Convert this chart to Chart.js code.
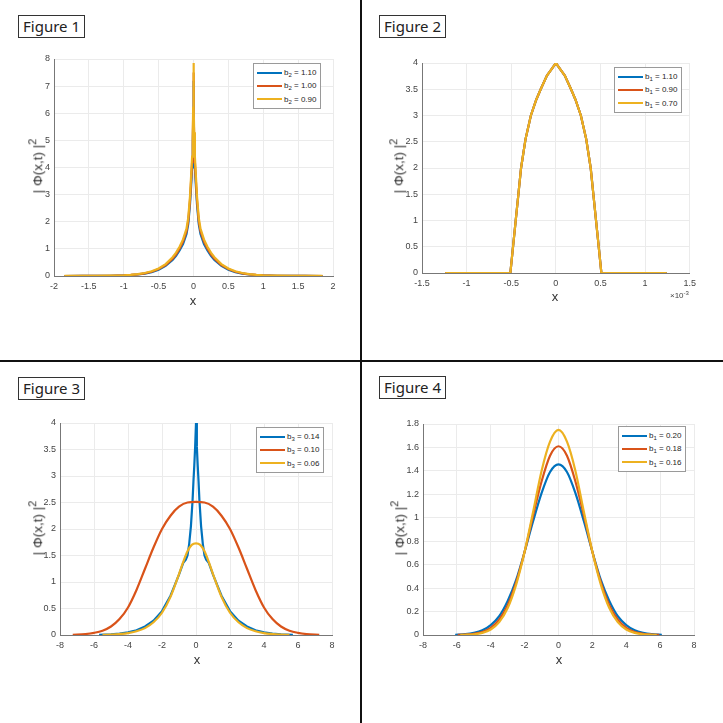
<!DOCTYPE html>
<html>
<head>
<meta charset="utf-8">
<script src="https://cdn.jsdelivr.net/npm/chart.js@4.4.1/dist/chart.umd.min.js"></script>
<style>
  html, body { margin: 0; padding: 0; background: #fff; }
  body { width: 723px; height: 723px; position: relative; overflow: hidden; font-family: "Liberation Sans", Arial, sans-serif; }
  .divider { position: absolute; background: #111; }
  .figbox { position: absolute; border: 1px solid #333; font-family: "Noto Sans", sans-serif; font-size: 15px; line-height: 21px; padding: 0 4px; color: #222; }
  .legend { position: absolute; background: #fff; border: 1px solid #9a9a9a; padding: 2px 4px 2px 3px; font-size: 8px; color: #262626; }
  .legend .row { height: 13.3px; display: flex; align-items: center; white-space: nowrap; }
  .legend .swatch { display: inline-block; width: 25px; height: 2px; margin-right: 2px; }
  .legend .txt { white-space: pre; }
  .legend sub { font-size: 6px; vertical-align: -2px; line-height: 0; }
  .xtitle { position: absolute; font-size: 13px; color: #333; transform: translate(-50%, -50%); line-height: 1; }
  .ytitle { position: absolute; font-size: 13.5px; color: #333; transform: translate(-50%, -50%) rotate(-90deg); white-space: nowrap; line-height: 1; }
  .ytitle sup { font-size: 11px; vertical-align: 6px; line-height: 0; }
  .expo { position: absolute; font-size: 8px; color: #444; }
  .expo sup { font-size: 6px; vertical-align: 3px; line-height: 0; }
  canvas { position: absolute; }
</style>
</head>
<body>
<div class="divider" style="left:360px;top:0;width:2px;height:723px"></div>
<div class="divider" style="left:0;top:360px;width:723px;height:2px"></div>

<script>
// ---- Figure 1 (b2) ----
const fig1X = [-1.85,-1.6,-1.4,-1.2,-1.0,-0.9,-0.8,-0.7,-0.6,-0.5,-0.4,-0.3,-0.25,-0.2,-0.15,-0.1,-0.075,-0.05,-0.03,-0.02,-0.01,-0.005,0,
               0.005,0.01,0.02,0.03,0.05,0.075,0.1,0.15,0.2,0.25,0.3,0.4,0.5,0.6,0.7,0.8,0.9,1.0,1.2,1.4,1.6,1.85];
const fig1B110 = [0.0005,0.0015,0.003,0.008,0.022,0.035,0.055,0.088,0.14,0.23,0.37,0.59,0.74,0.94,1.18,1.55,1.92,2.65,3.5,4.0,4.8,5.6,7.2,
                  5.6,4.8,4.0,3.5,2.65,1.92,1.55,1.18,0.94,0.74,0.59,0.37,0.23,0.14,0.088,0.055,0.035,0.022,0.008,0.003,0.0015,0.0005];
const fig1B100 = [0.0008,0.0018,0.004,0.0095,0.025,0.04,0.062,0.099,0.158,0.255,0.405,0.64,0.8,1.01,1.27,1.65,2.03,2.8,3.7,4.2,5.05,5.9,7.5,
                  5.9,5.05,4.2,3.7,2.8,2.03,1.65,1.27,1.01,0.8,0.64,0.405,0.255,0.158,0.099,0.062,0.04,0.025,0.0095,0.004,0.0018,0.0008];
const fig1B090 = [0.001,0.002,0.005,0.011,0.028,0.045,0.07,0.11,0.175,0.28,0.44,0.69,0.86,1.08,1.35,1.75,2.15,2.95,3.9,4.4,5.3,6.2,7.85,
                  6.2,5.3,4.4,3.9,2.95,2.15,1.75,1.35,1.08,0.86,0.69,0.44,0.28,0.175,0.11,0.07,0.045,0.028,0.011,0.005,0.002,0.001];
const fig1Labels = ['1.10', '1.00', '0.90'];
const fig1XTicks = [-2,-1.5,-1,-0.5,0,0.5,1,1.5,2];
const fig1YTicks = [0,1,2,3,4,5,6,7,8];

// ---- Figure 2 (b1), x in units of 1e-3 ----
const fig2X = [-1.24,-0.51,-0.48,-0.45,-0.42,-0.39,-0.34,-0.28,-0.22,-0.17,-0.1,-0.05,0,0.05,0.1,0.17,0.22,0.28,0.34,0.39,0.42,0.45,0.48,0.51,1.24];
const fig2Y = [0,0,0.5,1.0,1.5,2.0,2.55,3.0,3.3,3.5,3.76,3.88,4.0,3.88,3.76,3.5,3.3,3.0,2.55,2.0,1.5,1.0,0.5,0,0];
const fig2Labels = ['1.10', '0.90', '0.70'];
const fig2XTicks = [-1.5,-1,-0.5,0,0.5,1,1.5];
const fig2YTicks = [0,0.5,1,1.5,2,2.5,3,3.5,4];

// ---- Figure 3 (b3) ----
const fig3XB014 = [-5.7,-5,-4.5,-4,-3.5,-3,-2.5,-2,-1.5,-1,-0.75,-0.6,-0.5,-0.4,-0.3,-0.2,-0.15,-0.1,-0.05,0,
                   0.05,0.1,0.15,0.2,0.3,0.4,0.5,0.6,0.75,1,1.5,2,2.5,3,3.5,4,4.5,5,5.7];
const fig3B014 = [0.005,0.014,0.027,0.05,0.09,0.16,0.27,0.45,0.74,1.14,1.36,1.42,1.5,1.72,2.05,2.55,2.9,3.2,3.55,4.0,
                  3.55,3.2,2.9,2.55,2.05,1.72,1.5,1.42,1.36,1.14,0.74,0.45,0.27,0.16,0.09,0.05,0.027,0.014,0.005];
const fig3XB010 = [-7.25,-6.5,-6,-5.5,-5,-4.5,-4,-3.5,-3,-2.5,-2,-1.5,-1,-0.5,0,0.5,1,1.5,2,2.5,3,3.5,4,4.5,5,5.5,6,6.5,7.25];
const fig3B010 = [0.005,0.018,0.04,0.08,0.16,0.3,0.52,0.85,1.25,1.65,2.0,2.25,2.42,2.5,2.51,2.5,2.42,2.25,2.0,1.65,1.25,0.85,0.52,0.3,0.16,0.08,0.04,0.018,0.005];
const fig3XB006 = [-5.5,-5,-4.5,-4,-3.5,-3,-2.5,-2,-1.5,-1,-0.75,-0.5,-0.25,0,0.25,0.5,0.75,1,1.5,2,2.5,3,3.5,4,4.5,5,5.5];
const fig3B006 = [0.003,0.008,0.018,0.035,0.07,0.13,0.24,0.42,0.72,1.15,1.38,1.58,1.7,1.73,1.7,1.58,1.38,1.15,0.72,0.42,0.24,0.13,0.07,0.035,0.018,0.008,0.003];
const fig3Labels = ['0.14', '0.10', '0.06'];
const fig3XTicks = [-8,-6,-4,-2,0,2,4,6,8];
const fig3YTicks = [0,0.5,1,1.5,2,2.5,3,3.5,4];

// ---- Figure 4 (b1) ----
const fig4XB020 = [-6.1,-5.5,-5,-4.5,-4,-3.5,-3,-2.5,-2,-1.5,-1,-0.5,0,0.5,1,1.5,2,2.5,3,3.5,4,4.5,5,5.5,6.1];
const fig4B020 = [0.002,0.007,0.018,0.04,0.085,0.16,0.29,0.47,0.71,0.97,1.21,1.39,1.455,1.39,1.21,0.97,0.71,0.47,0.29,0.16,0.085,0.04,0.018,0.007,0.002];
const fig4XB018 = [-5.95,-5.5,-5,-4.5,-4,-3.5,-3,-2.5,-2,-1.5,-1,-0.5,0,0.5,1,1.5,2,2.5,3,3.5,4,4.5,5,5.5,5.95];
const fig4B018 = [0.0012,0.0033,0.01,0.025,0.061,0.131,0.255,0.45,0.71,1.02,1.31,1.53,1.61,1.53,1.31,1.02,0.71,0.45,0.255,0.131,0.061,0.025,0.01,0.0033,0.0012];
const fig4XB016 = [-5.8,-5.5,-5,-4.5,-4,-3.5,-3,-2.5,-2,-1.5,-1,-0.5,0,0.5,1,1.5,2,2.5,3,3.5,4,4.5,5,5.5,5.8];
const fig4B016 = [0.0009,0.0019,0.006,0.018,0.047,0.11,0.23,0.43,0.71,1.05,1.4,1.65,1.75,1.65,1.4,1.05,0.71,0.43,0.23,0.11,0.047,0.018,0.006,0.0019,0.0009];
const fig4Labels = ['0.20', '0.18', '0.16'];
const fig4XTicks = [-8,-6,-4,-2,0,2,4,6,8];
const fig4YTicks = [0,0.2,0.4,0.6,0.8,1,1.2,1.4,1.6,1.8];

const COLORS = ['#0072BD', '#D95319', '#EDB120'];
const PAD = { l: 40, t: 10, r: 10, b: 24 };

function fmt(v) {
    return String(Number(v.toFixed(3)));
}

function addDiv(cls, html, style) {
    const d = document.createElement('div');
    d.className = cls;
    d.innerHTML = html;
    Object.assign(d.style, style);
    document.body.appendChild(d);
    return d;
}

function makePanel(p) {
    const a = p.area;
    const w = a.right - a.left + PAD.l + PAD.r;
    const h = a.bottom - a.top + PAD.t + PAD.b;
    const cv = document.createElement('canvas');
    cv.width = w;
    cv.height = h;
    cv.style.left = (a.left - PAD.l) + 'px';
    cv.style.top = (a.top - PAD.t) + 'px';
    cv.style.width = w + 'px';
    cv.style.height = h + 'px';
    document.body.appendChild(cv);

    const tickFont = { family: '"Liberation Sans", Arial, sans-serif', size: 9 };

    new Chart(cv, {
        type: 'scatter',
        data: {
            datasets: p.series.map((s, i) => ({
                label: p.labels[i],
                data: s.x.map((x, j) => ({ x: x, y: s.y[j] })),
                showLine: true,
                borderColor: COLORS[i],
                backgroundColor: COLORS[i],
                borderWidth: 2.2,
                pointRadius: 0,
                order: 3 - i,
                tension: s.smooth ? 0.4 : 0,
                cubicInterpolationMode: s.smooth ? 'monotone' : 'default'
            }))
        },
        options: {
            responsive: false,
            animation: false,
            events: [],
            layout: { padding: { left: 0, top: PAD.t, right: PAD.r, bottom: 0 } },
            plugins: { legend: { display: false }, tooltip: { enabled: false } },
            scales: {
                x: {
                    type: 'linear',
                    min: p.xTicks[0],
                    max: p.xTicks[p.xTicks.length - 1],
                    afterBuildTicks: (sc) => { sc.ticks = p.xTicks.map(v => ({ value: v })); },
                    afterFit: (sc) => { sc.height = PAD.b; },
                    grid: { color: '#ebebeb', drawTicks: false },
                    border: { color: '#777', width: 1 },
                    ticks: { font: tickFont, color: '#444', padding: 5, maxRotation: 0, autoSkip: false, callback: fmt }
                },
                y: {
                    type: 'linear',
                    min: p.yTicks[0],
                    max: p.yTicks[p.yTicks.length - 1],
                    afterBuildTicks: (sc) => { sc.ticks = p.yTicks.map(v => ({ value: v })); },
                    afterFit: (sc) => { sc.width = PAD.l; },
                    grid: { color: '#ebebeb', drawTicks: false },
                    border: { color: '#777', width: 1 },
                    ticks: { font: tickFont, color: '#444', padding: 4, autoSkip: false, callback: fmt }
                }
            }
        }
    });

    // figure caption box
    addDiv('figbox', 'Figure ' + p.num, { left: p.fig.x + 'px', top: p.fig.y + 'px' });

    // legend
    const rows = p.labels.map((lab, i) =>
        '<div class="row"><span class="swatch" style="background:' + COLORS[i] + '"></span>' +
        '<span class="txt">b<sub>' + p.sub + '</sub> = ' + lab + '</span></div>').join('');
    addDiv('legend', rows, { left: p.legend.x + 'px', top: p.legend.y + 'px' });

    // axis titles
    addDiv('xtitle', 'x', { left: p.xTitle.x + 'px', top: p.xTitle.y + 'px' });
    addDiv('ytitle', '| &Phi;(x,t) |<sup>2</sup>', { left: p.yTitle.x + 'px', top: p.yTitle.y + 'px' });
}

makePanel({
    num: 1, sub: '2', labels: fig1Labels,
    area: { left: 54, top: 59, right: 333, bottom: 276 },
    xTicks: fig1XTicks, yTicks: fig1YTicks,
    fig: { x: 18, y: 15 }, legend: { x: 253, y: 63 },
    xTitle: { x: 193, y: 300 }, yTitle: { x: 38, y: 166 },
    series: [
        { x: fig1X, y: fig1B110 },
        { x: fig1X, y: fig1B100 },
        { x: fig1X, y: fig1B090 }
    ]
});

makePanel({
    num: 2, sub: '1', labels: fig2Labels,
    area: { left: 422, top: 63, right: 691, bottom: 273 },
    xTicks: fig2XTicks, yTicks: fig2YTicks,
    fig: { x: 379, y: 15 }, legend: { x: 614, y: 67 },
    xTitle: { x: 555, y: 296 }, yTitle: { x: 399, y: 166 },
    series: [
        { x: fig2X, y: fig2Y },
        { x: fig2X, y: fig2Y },
        { x: fig2X, y: fig2Y }
    ]
});
addDiv('expo', '&times;10<sup>-3</sup>', { left: '670px', top: '291px' });

makePanel({
    num: 3, sub: '3', labels: fig3Labels,
    area: { left: 60, top: 423, right: 332, bottom: 635 },
    xTicks: fig3XTicks, yTicks: fig3YTicks,
    fig: { x: 18, y: 377 }, legend: { x: 256, y: 427 },
    xTitle: { x: 197, y: 659 }, yTitle: { x: 38, y: 528 },
    series: [
        { x: fig3XB014, y: fig3B014 },
        { x: fig3XB010, y: fig3B010, smooth: true },
        { x: fig3XB006, y: fig3B006, smooth: true }
    ]
});

makePanel({
    num: 4, sub: '1', labels: fig4Labels,
    area: { left: 423, top: 424, right: 694, bottom: 635 },
    xTicks: fig4XTicks, yTicks: fig4YTicks,
    fig: { x: 379, y: 376 }, legend: { x: 618, y: 426 },
    xTitle: { x: 559, y: 659 }, yTitle: { x: 400, y: 528 },
    series: [
        { x: fig4XB020, y: fig4B020, smooth: true },
        { x: fig4XB018, y: fig4B018, smooth: true },
        { x: fig4XB016, y: fig4B016, smooth: true }
    ]
});
</script>
</body>
</html>
